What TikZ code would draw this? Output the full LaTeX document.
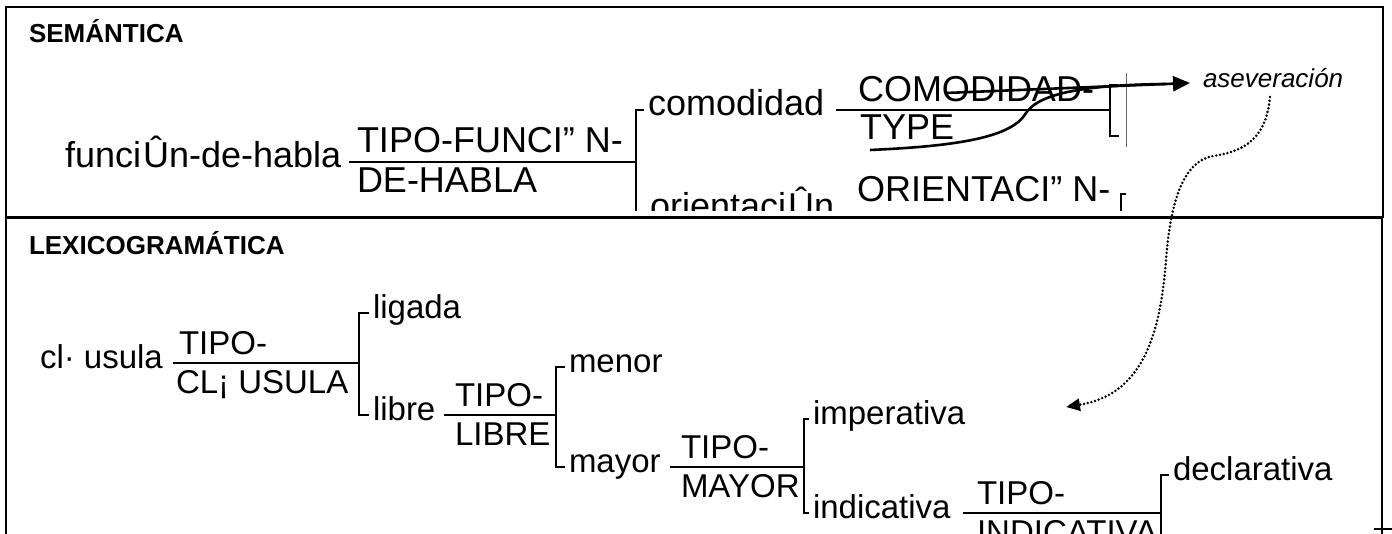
\documentclass[tikz,border=0pt]{standalone}
\usepackage{fontspec}
\setmainfont{Liberation Sans}
\usepackage{tikz}
\usetikzlibrary{arrows.meta}

\begin{document}
\begin{tikzpicture}[x=.5pt,y=-.5pt]
\tikzstyle{every node} = [inner sep=0pt, outer sep=0pt]
\tikzstyle{hd} = [anchor=base west, font=\fontsize{13}{15}\selectfont\bfseries]
\tikzstyle{uw} = [anchor=mid west, font=\fontsize{18}{21}\selectfont]
\tikzstyle{ut} = [anchor=base west, font=\fontsize{18}{21}\selectfont]
\tikzstyle{lw} = [anchor=mid west, font=\fontsize{16.5}{19}\selectfont]
\tikzstyle{lt} = [anchor=base west, font=\fontsize{16.5}{19}\selectfont]
\tikzstyle{ln} = [line width=1pt]
\tikzstyle{arw} = [line width=1.3pt]
\useasboundingbox (0,0) rectangle (1392,534);

% frame
\draw [ln] (6,534) -- (6,7) -- (1383,7) -- (1383,218);
\draw [line width=1.5pt] (6,218) -- (1383,218);
\draw [ln] (1382,218) -- (1382,534);
\draw [ln] (1374,529) -- (1392,529);

\node [hd] (sem) at (29,43) {SEMÁNTICA};
\node [hd] (lex) at (29,255) {LEXICOGRAMÁTICA};

% semantica
\begin{scope}
\clip (0,0) rectangle (1392,211);
\node [uw] (fh) at (65,162) {funci\kern1pt Ûn-de-habla};
\node [ut] (tfh) at (357,153) {TIPO-FUNCI” N-};
\node [ut] (dfh) at (357,193) {DE-HABLA};
\node [uw] (com) at (648,110) {comodidad};
\node [uw] (ori) at (650,213) {orientaci\kern1pt Ûn};
\node [ut] (tcom) at (858,102) {COMODIDAD-};
\node [ut] (bcom) at (860,140) {TYPE};
\node [ut] (tori) at (857,202) {ORIENTACI” N-};

\coordinate (k1) at (636,162);
\coordinate (k2) at (1110,110);
\coordinate (k2t) at (1110,85);
\coordinate (k2b) at (1110,136);
\coordinate (k3) at (1121,194);
\coordinate (k3b) at (1121,240);

\draw [ln] ([xshift=4pt]fh.mid east) -- (k1);
\draw [ln] ([xshift=-2pt]com.mid west) -| (k1) |- ([xshift=-2pt]ori.mid west);
\draw [ln] ([xshift=6pt]com.mid east) -- (k2);
\draw [ln] ([xshift=4pt]k2t) -- (k2t) -- (k2b) -- ([xshift=4.5pt]k2b);
\draw [ln] ([xshift=2.5pt]k3) -- (k3) -- (k3b);
\end{scope}

\coordinate (tl1) at (1126,73);
\coordinate (tl2) at (1126,147);
\draw [line width=.3pt, black!60] (tl1) -- (tl2);

\node [anchor=base west, font=\fontsize{13}{15}\selectfont\itshape] (asev) at (1203,88) {aseveración};
\coordinate (tip) at (1190,83);
\coordinate (la) at (946,93);
\coordinate (lb) at (870,150);
\coordinate (lbe) at (1165,84);
\draw [arw, -{Triangle[length=8.5pt,width=7.5pt]}] (la) -- (tip);
\draw [arw] (lb) .. controls (960,146) and (1012,137) .. (1026,113) .. controls (1040,92) and (1090,85) .. (lbe);

\coordinate (d0) at (1270,97);
\coordinate (d1) at (1066,407);
\draw [line width=1.4pt, line cap=round, dash pattern=on 0pt off 1.9pt, -{Triangle[length=7pt,width=6pt]}] (d0) .. controls (1266,142) and (1240,152) .. (1213,156) .. controls (1180,162) and (1170,210) .. (1166,260) .. controls (1160,340) and (1140,395) .. (d1);

% lexicogramatica
\begin{scope}
\clip (0,219) rectangle (1392,534);
\node [lw] (cl) at (40,363) {cl· usula};
\node [lt] (tcl) at (179,354) {TIPO-};
\node [lt] (bcl) at (176,393) {CL¡ USULA};
\node [lw] (lig) at (373,313) {ligada};
\node [lw] (lib) at (373,415) {libre};
\node [lt] (tlib) at (455,406) {TIPO-};
\node [lt] (blib) at (455,445) {LIBRE};
\node [lw] (men) at (569,367) {menor};
\node [lw] (may) at (569,467) {mayor};
\node [lt] (tmay) at (681,458) {TIPO-};
\node [lt] (bmay) at (681,497) {MAYOR};
\node [lw] (imp) at (813,419) {imperativa};
\node [lw] (ind) at (813,513) {indicativa};
\node [lt] (tind) at (977,504) {TIPO-};
\node [lt] (bind) at (977,543) {INDICATIVA};
\node [lw] (dec) at (1173,475) {declarativa};

\coordinate (k4) at (359,363);
\coordinate (k5) at (556,415);
\coordinate (k6) at (804,467);
\coordinate (k7) at (1161,513);
\coordinate (k7b) at (1161,560);

\draw [ln] ([xshift=5pt]cl.mid east) -- (k4);
\draw [ln] ([xshift=-2pt]lig.mid west) -| (k4) |- ([xshift=-2pt]lib.mid west);
\draw [ln] ([xshift=4.5pt]lib.mid east) -- (k5);
\draw [ln] ([xshift=-2pt]men.mid west) -| (k5) |- ([xshift=-2pt]may.mid west);
\draw [ln] ([xshift=4.5pt]may.mid east) -- (k6);
\draw [ln] ([xshift=-2pt]imp.mid west) -| (k6) |- ([xshift=-2pt]ind.mid west);
\draw [ln] ([xshift=6pt]ind.mid east) -- (k7);
\draw [ln] ([xshift=-2pt]dec.mid west) -| (k7) -- (k7b);
\end{scope}
\end{tikzpicture}
\end{document}
